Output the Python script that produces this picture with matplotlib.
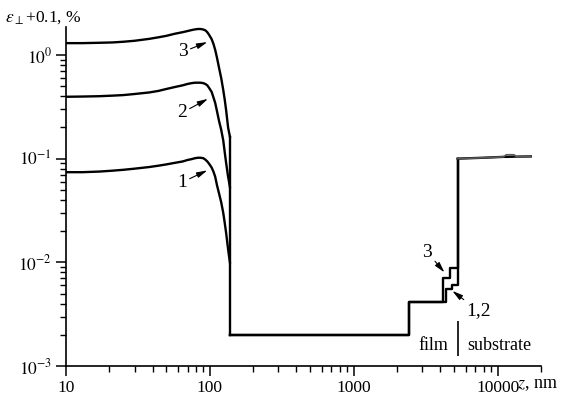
import matplotlib
matplotlib.use("Agg")
import matplotlib.pyplot as plt
from matplotlib.ticker import FixedLocator, LogLocator, NullFormatter

plt.rcParams["font.family"] = "Liberation Serif"
plt.rcParams["mathtext.fontset"] = "stix"

# film region, z in nm
film_z = [10, 13, 17, 21, 25, 30, 38, 44, 50, 57, 65, 70, 75, 79, 83, 86, 90, 93, 96, 99,
          103, 106, 109, 112, 116, 120, 124, 127, 130, 134, 136, 138]
film_v3 = [1.30, 1.30, 1.31, 1.32, 1.34, 1.37, 1.43, 1.48, 1.53, 1.60, 1.66, 1.70, 1.74,
           1.765, 1.78, 1.78, 1.76, 1.73, 1.66, 1.56, 1.42, 1.28, 1.12, 0.95, 0.75, 0.60,
           0.46, 0.37, 0.29, 0.20, 0.18, 0.163]
film_v2 = [0.395, 0.397, 0.40, 0.405, 0.41, 0.42, 0.435, 0.45, 0.47, 0.49, 0.51, 0.525,
           0.535, 0.54, 0.54, 0.54, 0.535, 0.525, 0.51, 0.48, 0.44, 0.39, 0.345, 0.29,
           0.23, 0.19, 0.15, 0.115, 0.09, 0.067, 0.06, 0.053]
film_v1 = [0.074, 0.074, 0.075, 0.0765, 0.078, 0.080, 0.083, 0.0855, 0.088, 0.091, 0.094,
           0.097, 0.099, 0.101, 0.102, 0.102, 0.101, 0.098, 0.094, 0.089, 0.082, 0.075,
           0.067, 0.056, 0.046, 0.038, 0.030, 0.024, 0.019, 0.0134, 0.0115, 0.010]

# stepwise part (steps-post)
step_z3 = [138, 2410, 4180, 4650, 5280]
step_v3 = [0.002, 0.0041, 0.0071, 0.0089, 0.100]
step_z12 = [138, 2410, 4390, 4830, 5280]
step_v12 = [0.002, 0.0041, 0.0055, 0.0061, 0.100]

# substrate tail
tail_z = [5280, 8000, 11000, 11500, 13000, 13500, 17000]
tail_v3 = [0.100, 0.102, 0.104, 0.109, 0.109, 0.104, 0.105]
tail_v12 = [0.100, 0.102, 0.104, 0.104, 0.1045, 0.1045, 0.105]

x_ticks = [10, 100, 1000, 10000]
x_labels = ["10", "100", "1000", "10000"]
y_ticks = [1e-3, 1e-2, 1e-1, 1e0]
y_labels = ["$10^{-3}$", "$10^{-2}$", "$10^{-1}$", "$10^{0}$"]

fig = plt.figure(figsize=(5.73, 3.96), dpi=100)
ax = fig.add_axes([0.115, 0.0758, 0.829, 0.856])

lw = 1.7
for v in (film_v1, film_v2, film_v3):
    ax.plot(film_z, v, color="black", lw=lw, solid_joinstyle="round")
# vertical drop at the film edge
ax.plot([film_z[-1], film_z[-1]], [film_v3[-1], step_v3[0]], color="black", lw=lw)
ax.plot(step_z12, step_v12, color="black", lw=lw, drawstyle="steps-post")
ax.plot(step_z3, step_v3, color="black", lw=lw, drawstyle="steps-post")
ax.plot(tail_z, tail_v12, color="black", lw=lw)
ax.plot(tail_z, tail_v3, color="0.35", lw=1.2)

ax.set_xscale("log")
ax.set_yscale("log")
ax.set_xlim(10, 20000)
ax.set_ylim(1e-3, 1.86)

ax.spines["top"].set_visible(False)
ax.spines["right"].set_visible(False)
ax.spines["left"].set_linewidth(1.2)
ax.spines["bottom"].set_linewidth(1.2)

ax.xaxis.set_major_locator(FixedLocator(x_ticks))
ax.set_xticklabels(x_labels)
ax.xaxis.set_minor_locator(LogLocator(base=10, subs=range(2, 10)))
ax.xaxis.set_minor_formatter(NullFormatter())
ax.yaxis.set_major_locator(FixedLocator(y_ticks))
ax.set_yticklabels(y_labels)
ax.yaxis.set_minor_locator(LogLocator(base=10, subs=range(2, 10)))
ax.yaxis.set_minor_formatter(NullFormatter())
ax.tick_params(which="major", direction="out", length=7, width=1.1, labelsize=12.5, pad=3)
ax.tick_params(which="minor", direction="out", length=4, width=1.0)

arrow = dict(arrowstyle="-|>,head_length=0.45,head_width=0.12", color="black", lw=0.8,
             shrinkA=0, shrinkB=0)
ax.annotate("3", xy=(96, 1.33), xytext=(65, 1.07), fontsize=14, ha="center", va="center",
            arrowprops=arrow)
ax.annotate("2", xy=(97, 0.377), xytext=(64, 0.277), fontsize=14, ha="center", va="center",
            arrowprops=arrow)
ax.annotate("1", xy=(96, 0.077), xytext=(64, 0.059), fontsize=14, ha="center", va="center",
            arrowprops=arrow)
ax.annotate("3", xy=(4270, 0.0080), xytext=(3250, 0.0125), fontsize=14, ha="center",
            va="center", arrowprops=arrow)
ax.annotate("1,2", xy=(4850, 0.0053), xytext=(7360, 0.0034), fontsize=14, ha="center",
            va="center", arrowprops=arrow)

ax.vlines(5280, 0.00125, 0.0027, color="black", lw=1.2)
ax.text(4550, 0.00159, "film", fontsize=13, ha="right", va="center")
ax.text(6170, 0.00159, "substrate", fontsize=13, ha="left", va="center")

fig.text(0.009, 0.955, r"$\varepsilon_{\perp}$+0.1, %", fontsize=12.5, ha="left", va="center")
fig.text(0.903, 0.028, r"$z$, nm", fontsize=13, ha="left", va="center")

fig.savefig("out.png", dpi=100)
